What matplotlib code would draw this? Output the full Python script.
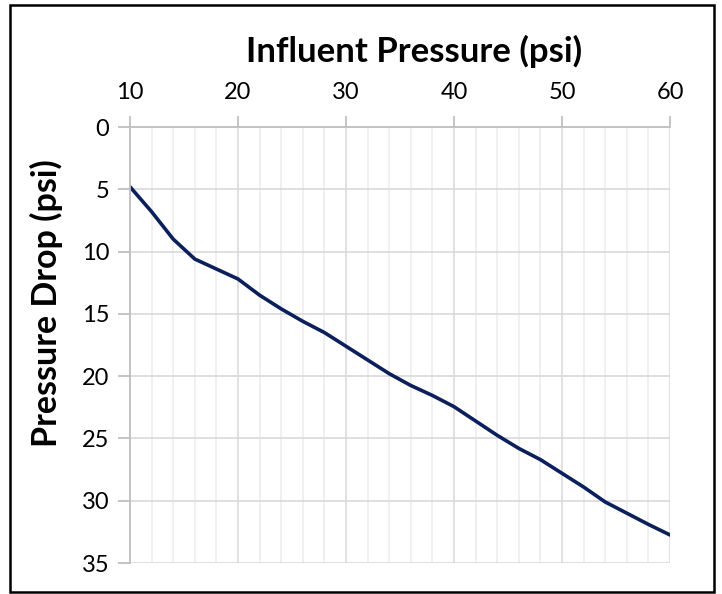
import matplotlib
matplotlib.use("Agg")
import matplotlib.pyplot as plt
from matplotlib.patches import Rectangle
from matplotlib.ticker import MultipleLocator

# ── Data ─────────────────────────────────────────────────────────────────
influent = [10, 12, 14, 16, 18, 20, 22, 24, 26, 28, 30, 32, 34, 36, 38,
            40, 42, 44, 46, 48, 50, 52, 54, 56, 58, 60]
drop = [4.8, 6.8, 9.0, 10.6, 11.4, 12.2, 13.5, 14.6, 15.6, 16.5, 17.6,
        18.7, 19.8, 20.75, 21.55, 22.45, 23.6, 24.75, 25.8, 26.7, 27.8,
        28.9, 30.1, 31.0, 31.9, 32.75]
x_ticks = [10, 20, 30, 40, 50, 60]
y_ticks = [0, 5, 10, 15, 20, 25, 30, 35]

plt.rcParams["font.family"] = ["Lato", "DejaVu Sans"]

W, H = 722, 594
fig = plt.figure(figsize=(W / 100, H / 100), dpi=100)
ax = fig.add_axes([130 / W, 1 - 563 / H, 540 / W, 436 / H])

ax.plot(influent, drop, color="#0a1f5c", lw=2.6, solid_capstyle="round",
        solid_joinstyle="round")

ax.set_xlim(10, 60)
ax.set_ylim(35, 0)
ax.xaxis.tick_top()
ax.set_xticks(x_ticks)
ax.set_yticks(y_ticks)
ax.xaxis.set_minor_locator(MultipleLocator(2))

# gridlines
ax.grid(which="major", axis="y", color="#d9d9d9", lw=1.2)
ax.grid(which="major", axis="x", color="#dcdcdc", lw=1.2)
ax.grid(which="minor", axis="x", color="#eeeeee", lw=1.2)
ax.set_axisbelow(True)

for s in ("right", "bottom"):
    ax.spines[s].set_visible(False)
for s in ("top", "left"):
    ax.spines[s].set_color("#bfbfbf")
    ax.spines[s].set_linewidth(1.3)

ax.tick_params(axis="x", which="major", direction="out", length=8, width=1.3,
               color="#bfbfbf", labelsize=17, pad=9)
ax.tick_params(axis="x", which="minor", length=0)
ax.tick_params(axis="y", direction="out", length=9, width=1.3,
               color="#bfbfbf", labelsize=17, pad=6)

# axis titles sit where the spreadsheet put them, not centred on the axes
fig.text(414 / W, 1 - 51 / H, "Influent Pressure (psi)", fontsize=25,
         fontweight="bold", ha="center", va="center")
fig.text(46 / W, 1 - 303 / H, "Pressure Drop (psi)", fontsize=24.5,
         fontweight="bold", ha="center", va="center", rotation=90)

# outer border of the chart area
fig.patches.append(Rectangle((10 / W, 2 / H), 704 / W, 587 / H,
                             transform=fig.transFigure, fill=False,
                             edgecolor="black", lw=1.8))

fig.savefig("out.png", dpi=100)
